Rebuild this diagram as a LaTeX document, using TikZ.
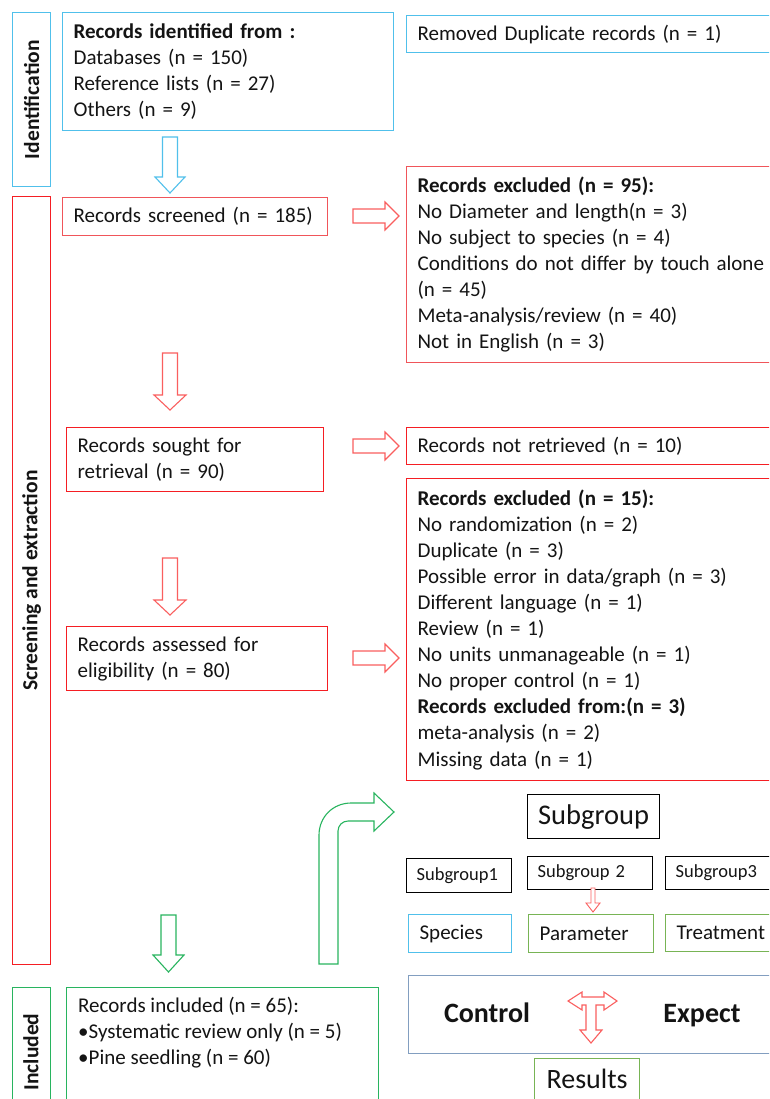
\documentclass[tikz,border=0pt]{standalone}
\usepackage{fontspec}
\setmainfont{Carlito}
\definecolor{cblue}{RGB}{80,192,235}
\definecolor{credA}{RGB}{240,85,90}
\definecolor{credB}{RGB}{245,30,35}
\definecolor{carrow}{RGB}{250,95,95}
\definecolor{cgreen}{RGB}{40,180,95}
\definecolor{cgreenB}{RGB}{120,180,85}
\definecolor{csteel}{RGB}{130,158,192}
\definecolor{ctext}{RGB}{20,20,20}
\begin{document}
\begin{tikzpicture}[x=1pt,y=-1pt,
  box/.style={draw=#1, line width=1.2pt, anchor=north west, inner xsep=11pt, inner ysep=0pt,
    align=left, text=ctext, font=\fontsize{21}{26.1}\selectfont},
  sidebox/.style={draw=#1, line width=1.2pt, anchor=north west, inner sep=0pt},
  sidetext/.style={rotate=90, text=ctext, font=\fontsize{21.5}{24}\selectfont\bfseries, inner sep=0pt},
  smallbox/.style={draw, line width=1.2pt, anchor=north west, inner xsep=10pt, inner ysep=0pt,
    align=left, text=ctext, font=\fontsize{18.5}{21}\selectfont},
  blockarrow/.style={draw=#1, fill=white, line width=1.1pt, line join=miter}
]
\clip (0,0) rectangle (769,1099);
\fill[white] (0,0) rectangle (769,1099);

% side boxes
\node[sidebox=cblue, minimum width=38pt, minimum height=174pt] (idside) at (12,12) {};
\node[sidetext] (idlabel) at (idside.center) {Identification};
\node[sidebox=credB, minimum width=38pt, minimum height=768pt] (scside) at (12,196) {};
\node[sidetext] (sclabel) at (scside.center) {Screening and extraction};
\node[sidebox=cgreen, minimum width=38pt, minimum height=150pt] (inside) at (12,987) {};
\node[sidetext] (inlabel) at (31,1052) {Included};

% identification
\node[box=cblue, minimum width=331pt, minimum height=118pt, text width=309pt] (ident) at (62,12)
  {\textbf{Records identified from :}\\Databases (n = 150)\\Reference lists (n = 27)\\Others (n = 9)};
\node[box=cblue, minimum width=380pt, minimum height=37pt, text width=358pt] (dup) at (406,15)
  {Removed Duplicate records (n = 1)};

% screening
\node[box=credA, minimum width=265pt, minimum height=38pt, text width=243pt] (scr) at (62,197)
  {Records screened (n = 185)};
\node[box=credA, minimum width=380pt, minimum height=196pt, text width=358pt] (exc1) at (406,166)
  {\textbf{Records excluded (n = 95):}\\No Diameter and length(n = 3)\\No subject to species (n = 4)\\Conditions do not differ by touch alone\\(n = 45)\\Meta-analysis/review (n = 40)\\Not in English (n = 3)};
\node[box=credB, minimum width=257pt, minimum height=64pt, text width=235pt] (sought) at (66,427)
  {Records sought for\\retrieval (n = 90)};
\node[box=credB, minimum width=380pt, minimum height=37pt, text width=358pt] (notret) at (406,427)
  {Records not retrieved (n = 10)};
\node[box=credB, minimum width=380pt, minimum height=302pt, text width=358pt] (exc2) at (406,478)
  {\textbf{Records excluded (n = 15):}\\No randomization (n = 2)\\Duplicate (n = 3)\\Possible error in data/graph (n = 3)\\Different language (n = 1)\\Review (n = 1)\\No units unmanageable (n = 1)\\No proper control (n = 1)\\\textbf{Records excluded from:(n = 3)}\\meta-analysis (n = 2)\\Missing data (n = 1)};
\node[box=credB, minimum width=261pt, minimum height=64pt, text width=239pt] (assess) at (66,626)
  {Records assessed for\\eligibility (n = 80)};

% included
\node[sidebox=cgreen, minimum width=312pt, minimum height=150pt] (incl) at (66,987) {};
\node[anchor=north west, inner sep=0pt, align=left, text=ctext, font=\fontsize{21}{26.1}\selectfont] (incltext) at (78,996.5)
  {Records included (n = 65):\\•Systematic review only (n = 5)\\•Pine seedling (n = 60)};

% subgroups
\node[draw, line width=1.2pt, anchor=north west, minimum width=132pt, minimum height=44pt, inner sep=0pt,
  text height=16pt, text depth=0pt, text=ctext, font=\fontsize{28.5}{32}\selectfont] (subg) at (527,794) {Subgroup};
\node[smallbox, minimum width=105pt, minimum height=34pt, text width=85pt] (sg1) at (406,858) {Subgroup1};
\node[smallbox, minimum width=125pt, minimum height=33pt, text width=105pt] (sg2) at (527,856) {Subgroup 2};
\node[smallbox, minimum width=110pt, minimum height=33pt, text width=90pt] (sg3) at (665,856) {Subgroup3};
\node[box=cblue, minimum width=103pt, minimum height=38pt, text width=81pt] (species) at (408,914) {Species};
\node[box=cgreenB, minimum width=125pt, minimum height=38pt, text width=103pt] (param) at (528,914) {Parameter};
\node[box=cgreenB, minimum width=110pt, minimum height=37pt, text width=88pt] (treat) at (665,914) {Treatment};

\node[sidebox=csteel, minimum width=380pt, minimum height=78pt] (ctrlbox) at (408,975) {};
\node[anchor=base, text=ctext, font=\fontsize{28}{32}\selectfont\bfseries, inner sep=0pt] (control) at (487,1022) {Control};
\node[anchor=base, text=ctext, font=\fontsize{28}{32}\selectfont\bfseries, inner sep=0pt] (expect) at (702,1022) {Expect};
\node[draw=cgreenB, line width=1.2pt, anchor=north west, minimum width=105pt, minimum height=46pt, inner sep=0pt,
  text height=14pt, text depth=0pt, text=ctext, font=\fontsize{28}{32}\selectfont] (results) at (534,1058) {Results};

% block arrows
\draw[blockarrow=cblue] (162.5,137) -- (177.5,137) -- (177.5,177) -- (185,177) -- (170,193) -- (155,177) -- (162.5,177) -- cycle;
\draw[blockarrow=carrow] (162.5,353) -- (177.5,353) -- (177.5,395) -- (186,395) -- (170,410) -- (154,395) -- (162.5,395) -- cycle;
\draw[blockarrow=carrow] (162.5,558) -- (177.5,558) -- (177.5,600) -- (186,600) -- (170,615) -- (154,600) -- (162.5,600) -- cycle;
\draw[blockarrow=cgreen] (161,915) -- (176,915) -- (176,955) -- (184,955) -- (168.5,972) -- (153,955) -- (161,955) -- cycle;

\draw[blockarrow=carrow] (353,209) -- (385,209) -- (385,202) -- (399,216) -- (385,230) -- (385,223) -- (353,223) -- cycle;
\draw[blockarrow=carrow] (353,439) -- (385,439) -- (385,432) -- (399,446) -- (385,460) -- (385,453) -- (353,453) -- cycle;
\draw[blockarrow=carrow] (353,651) -- (385,651) -- (385,644) -- (399,658) -- (385,672) -- (385,665) -- (353,665) -- cycle;

% bent arrow
\draw[blockarrow=cgreen] (319,964) -- (319,835) .. controls (319,817) and (333,803) .. (351,803)
  -- (374,803) -- (374,793) -- (394,812) -- (374,831) -- (374,821) -- (348,821)
  .. controls (342.5,821) and (338,825.5) .. (338,831) -- (338,964) -- cycle;

% small arrow
\draw[blockarrow=carrow, line width=0.9pt] (591,888) -- (595,888) -- (595,903) -- (600,903) -- (593,912) -- (586,903) -- (591,903) -- cycle;

% T arrow
\draw[blockarrow=carrow] (568,1001) -- (582,992) -- (582,997) -- (604,997) -- (604,992) -- (617,1001)
  -- (604,1010) -- (604,1005) -- (596,1005) -- (596,1030) -- (602,1030) -- (591,1043) -- (580,1030)
  -- (586,1030) -- (586,1005) -- (582,1005) -- (582,1010) -- cycle;
\end{tikzpicture}
\end{document}
